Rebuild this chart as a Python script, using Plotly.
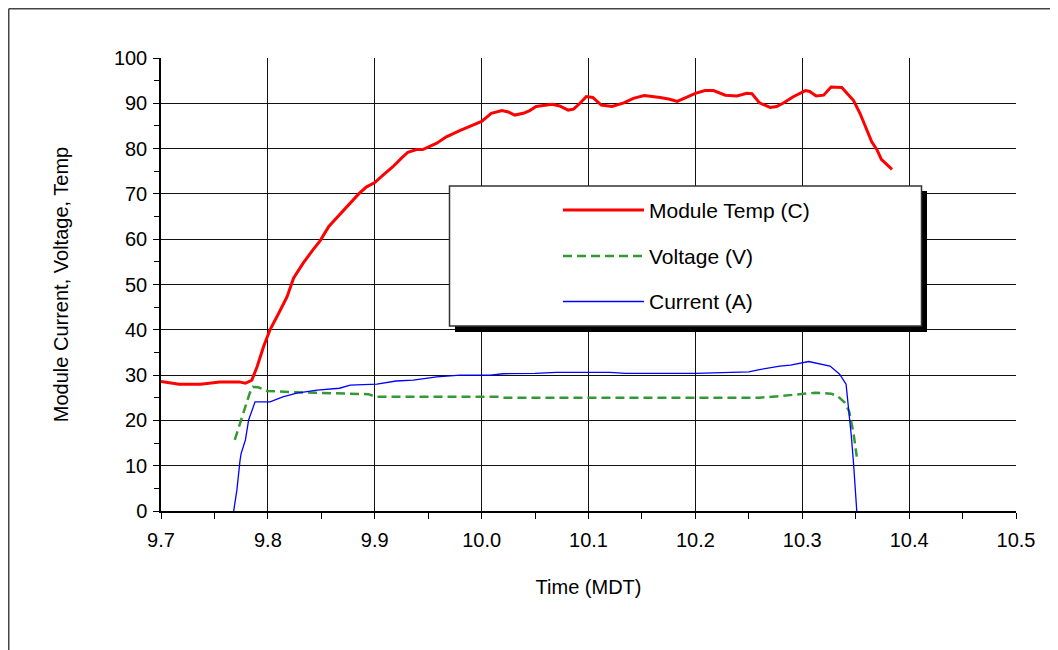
import plotly.graph_objects as go

# ---- data ----
temp_x = [9.700, 9.717, 9.737, 9.755, 9.773, 9.779, 9.785, 9.790, 9.796, 9.802, 9.810,
          9.818, 9.824, 9.833, 9.842, 9.849, 9.857, 9.867, 9.875, 9.885, 9.892, 9.900,
          9.908, 9.917, 9.925, 9.931, 9.939, 9.945, 9.958, 9.967, 9.980, 9.992, 10.000,
          10.004, 10.009, 10.019, 10.025, 10.031, 10.039, 10.045, 10.051, 10.066, 10.073,
          10.081, 10.086, 10.092, 10.098, 10.104, 10.112, 10.122, 10.133, 10.142, 10.152,
          10.167, 10.176, 10.183, 10.190, 10.200, 10.209, 10.217, 10.228, 10.239, 10.248,
          10.253, 10.260, 10.270, 10.276, 10.282, 10.292, 10.303, 10.307, 10.313, 10.320,
          10.327, 10.337, 10.342, 10.348, 10.354, 10.359, 10.365, 10.370, 10.374, 10.384]
temp_y = [28.6, 28.0, 28.0, 28.5, 28.5, 28.2, 28.9, 31.9, 36.3, 40.0, 43.6,
          47.3, 51.4, 54.7, 57.6, 59.7, 62.8, 65.3, 67.5, 70.0, 71.5, 72.5,
          74.2, 76.0, 77.9, 79.2, 79.8, 79.8, 81.2, 82.6, 84.0, 85.2, 86.0,
          86.8, 87.8, 88.4, 88.1, 87.4, 87.8, 88.4, 89.3, 89.8, 89.4,
          88.5, 88.7, 90.0, 91.5, 91.3, 89.6, 89.3, 90.1, 91.1, 91.7,
          91.3, 90.9, 90.4, 91.1, 92.2, 92.8, 92.8, 91.8, 91.6, 92.2,
          92.1, 90.1, 89.1, 89.3, 90.0, 91.5, 92.8, 92.6, 91.6, 91.8,
          93.6, 93.5, 92.1, 90.6, 87.8, 84.8, 81.5, 79.7, 77.6, 75.4]

volt_x = [9.769, 9.774, 9.779, 9.783, 9.786, 9.791, 9.799, 9.827, 9.894, 9.901, 9.970,
          10.015, 10.020, 10.100, 10.200, 10.260, 10.280, 10.289, 10.300, 10.312,
          10.327, 10.333, 10.340, 10.344, 10.348, 10.351]
volt_y = [15.7, 19.4, 23.0, 26.0, 27.4, 27.3, 26.5, 26.2, 25.8, 25.2, 25.2,
          25.2, 25.0, 25.0, 25.0, 25.0, 25.4, 25.6, 25.9, 26.1,
          25.9, 25.4, 23.9, 21.9, 17.1, 12.0]

curr_x = [9.768, 9.771, 9.774, 9.775, 9.779, 9.782, 9.788, 9.802, 9.814, 9.827,
          9.846, 9.867, 9.877, 9.902, 9.920, 9.936, 9.958, 9.970, 9.980, 10.008,
          10.020, 10.050, 10.070, 10.120, 10.135, 10.200, 10.220, 10.250, 10.260,
          10.279, 10.289, 10.306, 10.326, 10.335, 10.341, 10.344, 10.346, 10.348, 10.351]
curr_y = [0.0, 4.6, 11.3, 12.7, 15.7, 20.1, 24.1, 24.1, 25.2, 26.0,
          26.7, 27.1, 27.8, 28.0, 28.7, 28.9, 29.6, 29.8, 30.0, 30.0,
          30.3, 30.4, 30.6, 30.6, 30.4, 30.4, 30.5, 30.7, 31.2,
          32.0, 32.2, 33.0, 32.0, 30.2, 28.0, 21.6, 16.4, 10.5, 0.0]

series_names = ["Module Temp (C)", "Voltage (V)", "Current (A)"]
x_tickvals = [9.7, 9.8, 9.9, 10.0, 10.1, 10.2, 10.3, 10.4, 10.5]
x_ticktext = ["9.7", "9.8", "9.9", "10.0", "10.1", "10.2", "10.3", "10.4", "10.5"]

# ---- figure ----
FONT = "Arial, Liberation Sans, sans-serif"
RED, GREEN, BLUE = "#FF0000", "#339933", "#0000FF"
VDASH = "9px,5px"

fig = go.Figure()
fig.add_trace(go.Scatter(x=temp_x, y=temp_y, mode="lines", name=series_names[0],
                         line=dict(color=RED, width=3), showlegend=False))
fig.add_trace(go.Scatter(x=volt_x, y=volt_y, mode="lines", name=series_names[1],
                         line=dict(color=GREEN, width=2.5, dash=VDASH), showlegend=False))
fig.add_trace(go.Scatter(x=curr_x, y=curr_y, mode="lines", name=series_names[2],
                         line=dict(color=BLUE, width=1.3), showlegend=False))

OFF = 8  # page offset of the figure inside the browser window
W, H = 1050, 642
L, T = 161 - OFF, 58 - OFF
pw, ph = 855, 453
R = W - L - pw
B = H - T - ph

def px(xp):  # window pixel -> paper x
    return (xp - OFF - L) / pw

def py(yp):  # window pixel -> paper y
    return (T + ph - (yp - OFF)) / ph

FRAME = dict(color="#444444", width=1.5)
shapes = []
# outer frame (only left and top edges visible in the window)
shapes.append(dict(type="line", xref="paper", yref="paper",
                   x0=px(OFF + 0.75), x1=px(OFF + 0.75), y0=py(OFF + 0.75), y1=py(OFF + H + 20),
                   line=FRAME, layer="below"))
shapes.append(dict(type="line", xref="paper", yref="paper",
                   x0=px(OFF + 0.75), x1=px(OFF + W + 20), y0=py(OFF + 0.75), y1=py(OFF + 0.75),
                   line=FRAME, layer="below"))
# legend shadow + box
shapes.append(dict(type="rect", xref="paper", yref="paper",
                   x0=px(455), x1=px(927), y0=py(332), y1=py(191),
                   fillcolor="black", line=dict(width=0), layer="above"))
shapes.append(dict(type="rect", xref="paper", yref="paper",
                   x0=px(449.5), x1=px(921.5), y0=py(326), y1=py(186),
                   fillcolor="white", line=dict(color="#333333", width=1.5), layer="above"))
rows = [210, 256, 301.5]
styles = [dict(color=RED, width=3), dict(color=GREEN, width=2.5, dash=VDASH),
          dict(color=BLUE, width=1.3)]
annotations = []
for name, yy, st in zip(series_names, rows, styles):
    shapes.append(dict(type="line", xref="paper", yref="paper",
                       x0=px(563), x1=px(644), y0=py(yy), y1=py(yy),
                       line=st, layer="above"))
    annotations.append(dict(xref="paper", yref="paper", x=px(647), y=py(yy),
                            xanchor="left", yanchor="middle", showarrow=False,
                            text=name, font=dict(family=FONT, size=21, color="black")))

fig.update_layout(
    width=W, height=H,
    margin=dict(l=L, r=R, t=T, b=B),
    paper_bgcolor="white", plot_bgcolor="white",
    font=dict(family=FONT, size=20, color="black"),
    shapes=shapes, annotations=annotations,
    showlegend=False,
)
fig.update_xaxes(range=[9.7, 10.5], tickvals=x_tickvals, ticktext=x_ticktext,
                 showgrid=True, gridcolor="#111111", gridwidth=1,
                 showline=True, linecolor="black", linewidth=1.5, mirror=False,
                 ticks="outside", ticklen=6, tickcolor="black", tickwidth=1,
                 minor=dict(dtick=0.05, ticks="outside", ticklen=6, tickcolor="black",
                            showgrid=False),
                 zeroline=False, ticklabelstandoff=4,
                 title=dict(text="Time (MDT)", font=dict(size=20), standoff=30),
                 tickfont=dict(size=20))
fig.update_yaxes(range=[0, 100], dtick=10,
                 showgrid=True, gridcolor="#111111", gridwidth=1,
                 showline=True, linecolor="black", linewidth=1.5, mirror=False,
                 ticks="outside", ticklen=6, tickcolor="black", tickwidth=1,
                 minor=dict(dtick=5, ticks="outside", ticklen=5, tickcolor="black",
                            showgrid=False),
                 zeroline=False, ticklabelstandoff=2,
                 title=dict(text="Module Current, Voltage, Temp", font=dict(size=20), standoff=40),
                 tickfont=dict(size=20))

fig.write_html("out.html")
